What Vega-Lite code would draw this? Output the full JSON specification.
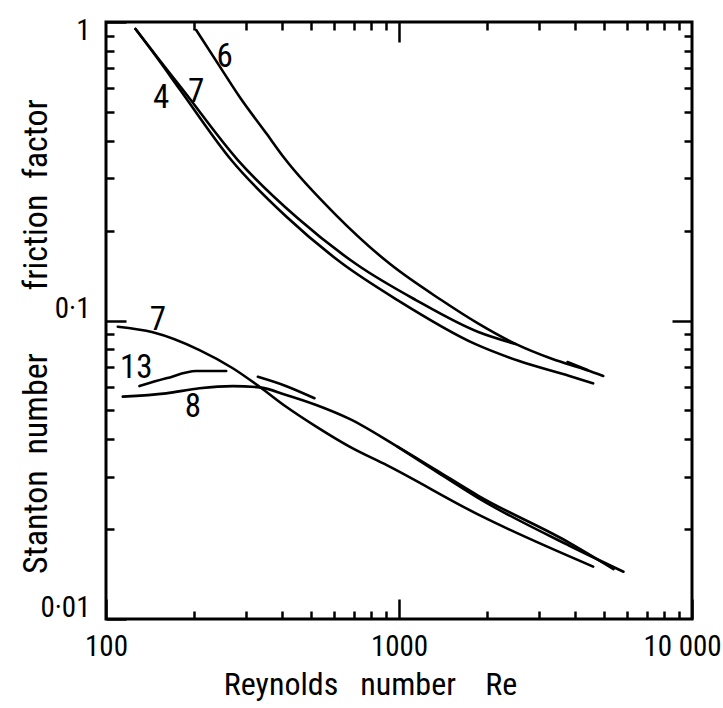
{
  "$schema": "https://vega.github.io/schema/vega-lite/v6.json",
  "width": 586,
  "height": 597,
  "autosize": {"type": "none"},
  "padding": {"left": 106, "top": 22, "right": 31, "bottom": 89},
  "background": "white",
  "config": {
    "view": {"stroke": "black", "strokeWidth": 3},
    "axis": {
      "domain": false,
      "grid": false,
      "tickColor": "black",
      "tickWidth": 2.5,
      "labelColor": "black",
      "titleColor": "black",
      "labelFont": "Roboto Condensed, Liberation Sans",
      "titleFont": "Roboto Condensed, Liberation Sans",
      "labelFontSize": 29,
      "titleFontSize": 32,
      "titleFontWeight": "normal",
      "labelOverlap": false,
      "labelFlush": false
    }
  },
  "datasets": {
    "curves": [
      {"c": "F6", "Re": 203.2, "v": 0.94},
      {"c": "F6", "Re": 240.7, "v": 0.727},
      {"c": "F6", "Re": 285.5, "v": 0.562},
      {"c": "F6", "Re": 352.3, "v": 0.4238},
      {"c": "F6", "Re": 406.6, "v": 0.3494},
      {"c": "F6", "Re": 612, "v": 0.2246},
      {"c": "F6", "Re": 928, "v": 0.1551},
      {"c": "F6", "Re": 1394, "v": 0.1171},
      {"c": "F6", "Re": 1866, "v": 0.0976},
      {"c": "F6", "Re": 2498, "v": 0.0835},
      {"c": "F6", "Re": 3341, "v": 0.0743},
      {"c": "F6", "Re": 4365, "v": 0.0683},
      {"c": "F6", "Re": 4977, "v": 0.0652},
      {"c": "F7", "Re": 126.1, "v": 0.9475},
      {"c": "F7", "Re": 152.2, "v": 0.746},
      {"c": "F7", "Re": 181.0, "v": 0.601},
      {"c": "F7", "Re": 281.8, "v": 0.3448},
      {"c": "F7", "Re": 450.5, "v": 0.2204},
      {"c": "F7", "Re": 721.8, "v": 0.1534},
      {"c": "F7", "Re": 1142, "v": 0.1171},
      {"c": "F7", "Re": 1866, "v": 0.0915},
      {"c": "F7", "Re": 2498, "v": 0.0834},
      {"c": "F4", "Re": 126.1, "v": 0.9475},
      {"c": "F4", "Re": 152.2, "v": 0.74},
      {"c": "F4", "Re": 178.2, "v": 0.5964},
      {"c": "F4", "Re": 267.6, "v": 0.3448},
      {"c": "F4", "Re": 412.1, "v": 0.223},
      {"c": "F4", "Re": 635, "v": 0.1561},
      {"c": "F4", "Re": 988, "v": 0.1171},
      {"c": "F4", "Re": 1817, "v": 0.0835},
      {"c": "F4", "Re": 2557, "v": 0.0733},
      {"c": "F4", "Re": 3818, "v": 0.0652},
      {"c": "F4", "Re": 4598, "v": 0.0616},
      {"c": "Fs", "Re": 3758, "v": 0.0726},
      {"c": "Fs", "Re": 4399, "v": 0.0683},
      {"c": "S7", "Re": 109.7, "v": 0.0953},
      {"c": "S7", "Re": 144.5, "v": 0.0913},
      {"c": "S7", "Re": 208.5, "v": 0.0796},
      {"c": "S7", "Re": 270.9, "v": 0.0692},
      {"c": "S7", "Re": 334.1, "v": 0.06},
      {"c": "S7", "Re": 412.1, "v": 0.0514},
      {"c": "S7", "Re": 521.7, "v": 0.0441},
      {"c": "S7", "Re": 677.8, "v": 0.0378},
      {"c": "S7", "Re": 911.6, "v": 0.0327},
      {"c": "S7", "Re": 1912, "v": 0.0221},
      {"c": "S7", "Re": 4598, "v": 0.01498},
      {"c": "S8", "Re": 114.1, "v": 0.0556},
      {"c": "S8", "Re": 160.5, "v": 0.057},
      {"c": "S8", "Re": 208.5, "v": 0.0593},
      {"c": "S8", "Re": 270.9, "v": 0.0603},
      {"c": "S8", "Re": 334.1, "v": 0.0597},
      {"c": "S8", "Re": 412.1, "v": 0.0563},
      {"c": "S8", "Re": 521.7, "v": 0.0521},
      {"c": "S8", "Re": 677.8, "v": 0.0468},
      {"c": "S8", "Re": 987.5, "v": 0.0378},
      {"c": "S8", "Re": 1322, "v": 0.0318},
      {"c": "S8", "Re": 1866, "v": 0.02587},
      {"c": "S8", "Re": 3818, "v": 0.0180},
      {"c": "S8", "Re": 5397, "v": 0.0147},
      {"c": "Sx", "Re": 987.5, "v": 0.0378},
      {"c": "Sx", "Re": 1322, "v": 0.03145},
      {"c": "Sx", "Re": 1866, "v": 0.0254},
      {"c": "Sx", "Re": 3818, "v": 0.0176},
      {"c": "Sx", "Re": 5836, "v": 0.0144},
      {"c": "Sd", "Re": 329.7, "v": 0.0648},
      {"c": "Sd", "Re": 406.6, "v": 0.0606},
      {"c": "Sd", "Re": 514.8, "v": 0.0549},
      {"c": "S13", "Re": 130.1, "v": 0.0603},
      {"c": "S13", "Re": 160.5, "v": 0.064},
      {"c": "S13", "Re": 203.2, "v": 0.0677},
      {"c": "S13", "Re": 257.2, "v": 0.0677}
    ],
    "labels": [
      {"label": "6", "Re": 253.8, "v": 0.765},
      {"label": "4", "Re": 154.3, "v": 0.555},
      {"label": "7", "Re": 203.2, "v": 0.584},
      {"label": "7", "Re": 150.3, "v": 0.1004},
      {"label": "13", "Re": 126.8, "v": 0.0692},
      {"label": "8", "Re": 197.8, "v": 0.0514}
    ]
  },
  "layer": [
    {
      "data": {"name": "curves"},
      "mark": {"type": "line", "interpolate": "monotone", "color": "black", "strokeWidth": 2.6, "strokeCap": "round"},
      "encoding": {
        "x": {
          "field": "Re", "type": "quantitative",
          "scale": {"type": "log", "domain": [100, 10000], "nice": false},
          "axis": {
            "orient": "bottom",
            "values": [100, 1000, 10000],
            "tickSize": -20,
            "labelPadding": 33,
            "labelBaseline": "top",
            "labelExpr": "datum.value == 10000 ? '10 000' : format(datum.value, 'd')",
            "labelOffset": {"condition": {"test": "datum.value == 10000", "value": -10}, "value": 0},
            "title": "Reynolds\u00a0\u00a0\u00a0number\u00a0\u00a0\u00a0\u00a0Re",
            "titleBaseline": "alphabetic",
            "titleAlign": "center",
            "titleX": 264,
            "titleY": 75
          }
        },
        "y": {
          "field": "v", "type": "quantitative",
          "scale": {"type": "log", "domain": [0.01, 1], "nice": false},
          "axis": {
            "orient": "left",
            "values": [0.01, 0.1, 1],
            "tickSize": -20,
            "labelPadding": 36,
            "labelBaseline": "middle",
            "labelOffset": {"condition": {"test": "datum.value == 1", "value": 8}, "value": -12},
            "labelExpr": "datum.value == 1 ? '1' : (datum.value > 0.05 ? '0·1' : '0·01')",
            "title": "Stanton\u00a0\u00a0number\u00a0\u00a0\u00a0\u00a0\u00a0\u00a0\u00a0\u00a0friction\u00a0\u00a0factor",
            "titleFontSize": 34,
            "titleAngle": 270,
            "titleBaseline": "alphabetic",
            "titleAlign": "center",
            "titleX": -60,
            "titleY": 314
          }
        },
        "detail": {"field": "c"}
      }
    },
    {
      "data": {"name": "labels"},
      "mark": {"type": "text", "fontSize": 33, "align": "center", "baseline": "middle", "color": "black", "font": "Roboto Condensed, Liberation Sans"},
      "encoding": {
        "x": {
          "field": "Re", "type": "quantitative",
          "scale": {"type": "log", "domain": [100, 10000], "nice": false},
          "axis": {"orient": "top", "values": [1000], "tickSize": -20, "labels": false, "title": null}
        },
        "y": {
          "field": "v", "type": "quantitative",
          "scale": {"type": "log", "domain": [0.01, 1], "nice": false},
          "axis": {"orient": "right", "values": [0.1], "tickSize": -20, "labels": false, "title": null}
        },
        "text": {"field": "label"}
      }
    },
    {
      "data": {"name": "labels"},
      "mark": {"type": "point", "opacity": 0},
      "encoding": {
        "x": {
          "field": "Re", "type": "quantitative",
          "scale": {"type": "log", "domain": [100, 10000], "nice": false},
          "axis": {"orient": "bottom", "values": [200, 300, 400, 500, 600, 700, 800, 900, 2000, 3000, 4000, 5000, 6000, 7000, 8000, 9000], "tickSize": -8, "labels": false, "title": null}
        },
        "y": {
          "field": "v", "type": "quantitative",
          "scale": {"type": "log", "domain": [0.01, 1], "nice": false},
          "axis": {"orient": "left", "values": [0.02, 0.03, 0.04, 0.05, 0.06, 0.07, 0.08, 0.09, 0.2, 0.3, 0.4, 0.5, 0.6, 0.7, 0.8, 0.9], "tickSize": -8, "labels": false, "title": null}
        }
      }
    },
    {
      "data": {"name": "labels"},
      "mark": {"type": "point", "opacity": 0},
      "encoding": {
        "x": {
          "field": "Re", "type": "quantitative",
          "scale": {"type": "log", "domain": [100, 10000], "nice": false},
          "axis": {"orient": "top", "values": [200, 300, 400, 500, 600, 700, 800, 900, 2000, 3000, 4000, 5000, 6000, 7000, 8000, 9000], "tickSize": -8, "labels": false, "title": null}
        },
        "y": {
          "field": "v", "type": "quantitative",
          "scale": {"type": "log", "domain": [0.01, 1], "nice": false},
          "axis": {"orient": "right", "values": [0.02, 0.03, 0.04, 0.05, 0.06, 0.07, 0.08, 0.09, 0.2, 0.3, 0.4, 0.5, 0.6, 0.7, 0.8, 0.9], "tickSize": -8, "labels": false, "title": null}
        }
      }
    }
  ],
  "resolve": {"axis": {"x": "independent", "y": "independent"}}
}
